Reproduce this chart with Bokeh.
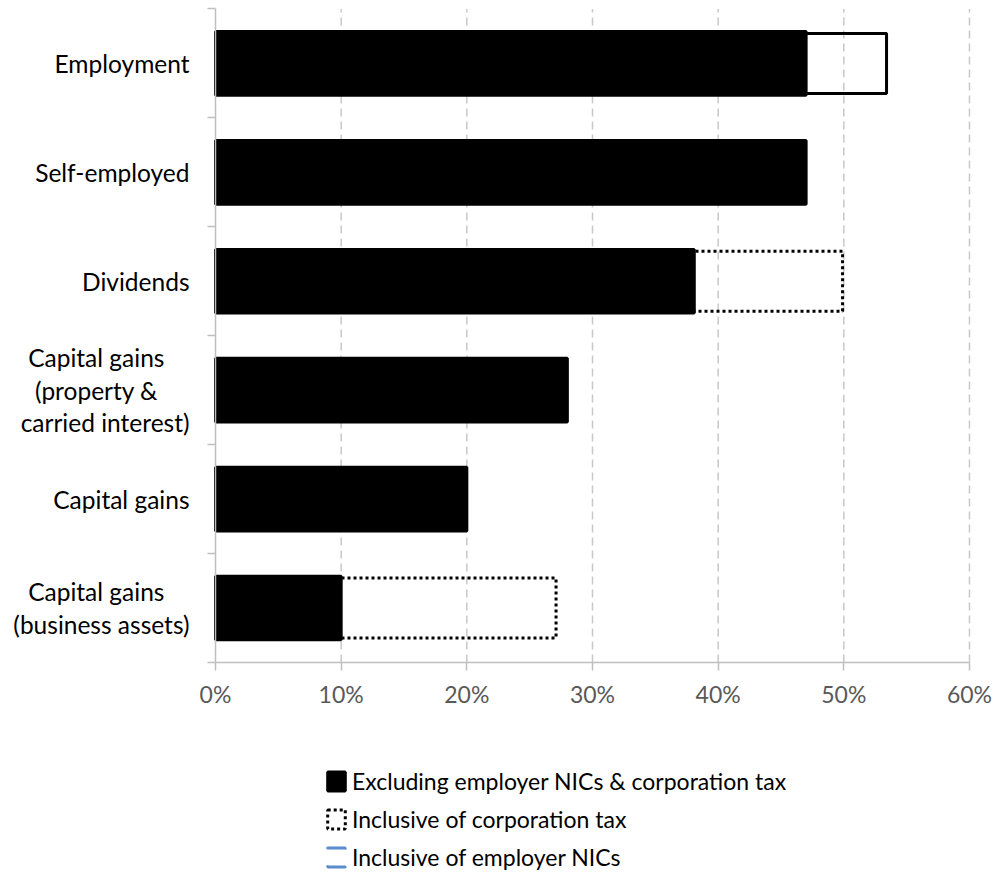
from bokeh.plotting import figure
from bokeh.models import (ColumnDataSource, FixedTicker, PrintfTickFormatter,
                          Legend, LegendItem, Range1d, LinearAxis)
from bokeh.embed import file_html
from bokeh.resources import INLINE

NB = "\u00a0"
categories = ["Employment", "Self-employed", "Dividends",
              "Capital gains" + NB * 4 + "\n(property &" + NB * 5 + "\ncarried interest)",
              "Capital gains",
              "Capital gains" + NB * 4 + "\n(business assets)"]
excluding = [47.0, 47.0, 38.1, 28.0, 20.0, 10.0]
incl_corp_tax = [None, None, 49.9, None, None, 27.1]
incl_employer_nics = [53.4, None, None, None, None, None]
x_ticks = [0, 10, 20, 30, 40, 50, 60]
series_names = ["Excluding employer NICs & corporation tax",
                "Inclusive of corporation tax",
                "Inclusive of employer NICs"]

FONT = "Lato"
n = len(categories)
ypos = [n - i - 0.5 for i in range(n)]

src_excl = ColumnDataSource(dict(y=ypos, right=excluding))
ct_y = [ypos[i] for i, v in enumerate(incl_corp_tax) if v is not None]
ct_v = [v for v in incl_corp_tax if v is not None]
src_ct = ColumnDataSource(dict(y=ct_y, right=ct_v))
ni_y = [ypos[i] for i, v in enumerate(incl_employer_nics) if v is not None]
ni_v = [v for v in incl_employer_nics if v is not None]
src_ni = ColumnDataSource(dict(y=ni_y, right=ni_v))
grid_x = x_ticks[1:]
src_grid = ColumnDataSource(dict(x=grid_x, y0=[0] * len(grid_x),
                                 y1=[n] * len(grid_x)))

# the frame fills the whole canvas; axes are fixed at x = 0 and y = 0
p = figure(width=997, height=873, output_backend="svg", toolbar_location=None,
           x_range=Range1d(-17.11, 62.23), y_range=Range1d(-1.938, 6.078),
           x_axis_location=None, y_axis_location=None,
           min_border=0)
p.outline_line_color = None
p.background_fill_color = "white"
p.xgrid.visible = False
p.ygrid.visible = False

p.segment(x0="x", y0="y0", x1="x", y1="y1", source=src_grid,
          line_color="#c8c8c8", line_width=1.5, line_dash="8 5")

# blue employer-NICs outline (shown in the legend), covered by the black outline
r_ni_leg = p.hbar(y="y", left=0, right="right", height=0.55, source=src_ni,
                  fill_color=None, line_color="#5B8CCB", line_width=3,
                  line_dash="18 19", line_cap="round")
r_ni = p.hbar(y="y", left=0, right="right", height=0.55, source=src_ni,
              fill_color=None, line_color="black", line_width=3)
r_ct = p.hbar(y="y", left=0, right="right", height=0.55, source=src_ct,
              fill_color=None, line_color="black", line_width=3,
              line_dash="3 3")
r_ex = p.hbar(y="y", left=0, right="right", height=0.585, source=src_excl,
              fill_color="black", line_color="black", line_width=3)

xaxis = LinearAxis(fixed_location=0, bounds=(0, 60))
xaxis.ticker = FixedTicker(ticks=x_ticks)
xaxis.formatter = PrintfTickFormatter(format="%d%%")
xaxis.axis_line_color = "#bfbfbf"
xaxis.axis_line_width = 1.5
xaxis.major_tick_line_color = "#bfbfbf"
xaxis.major_tick_line_width = 1.5
xaxis.major_tick_out = 8
xaxis.major_tick_in = 0
xaxis.minor_tick_line_color = None
xaxis.major_label_text_font = FONT
xaxis.major_label_text_font_size = "23px"
xaxis.major_label_text_color = "#595959"
xaxis.major_label_standoff = 10
p.add_layout(xaxis, "below")

yaxis = LinearAxis(fixed_location=0, bounds=(0, n))
yaxis.ticker = FixedTicker(ticks=ypos, minor_ticks=list(range(n + 1)))
yaxis.major_label_overrides = {ypos[i]: categories[i] for i in range(n)}
yaxis.axis_line_color = "#bfbfbf"
yaxis.axis_line_width = 1.5
yaxis.major_tick_line_color = None
yaxis.major_tick_out = 0
yaxis.major_tick_in = 0
yaxis.minor_tick_line_color = "#bfbfbf"
yaxis.minor_tick_line_width = 1.5
yaxis.minor_tick_out = 8
yaxis.minor_tick_in = 0
yaxis.major_label_text_font = FONT
yaxis.major_label_text_font_size = "24.5px"
yaxis.major_label_text_color = "black"
yaxis.major_label_text_line_height = 1.13
yaxis.major_label_standoff = 18
p.add_layout(yaxis, "left")

legend = Legend(items=[LegendItem(label=series_names[0], renderers=[r_ex]),
                       LegendItem(label=series_names[1], renderers=[r_ct]),
                       LegendItem(label=series_names[2], renderers=[r_ni_leg])],
                location=(325, 2), orientation="vertical",
                label_text_font=FONT, label_text_font_size="23px",
                label_text_color="black", glyph_width=22, glyph_height=24,
                label_standoff=5, spacing=10, padding=0,
                margin=0, border_line_color=None, background_fill_alpha=0)
p.add_layout(legend, "center")

open("out.html", "w").write(file_html(p, INLINE))
